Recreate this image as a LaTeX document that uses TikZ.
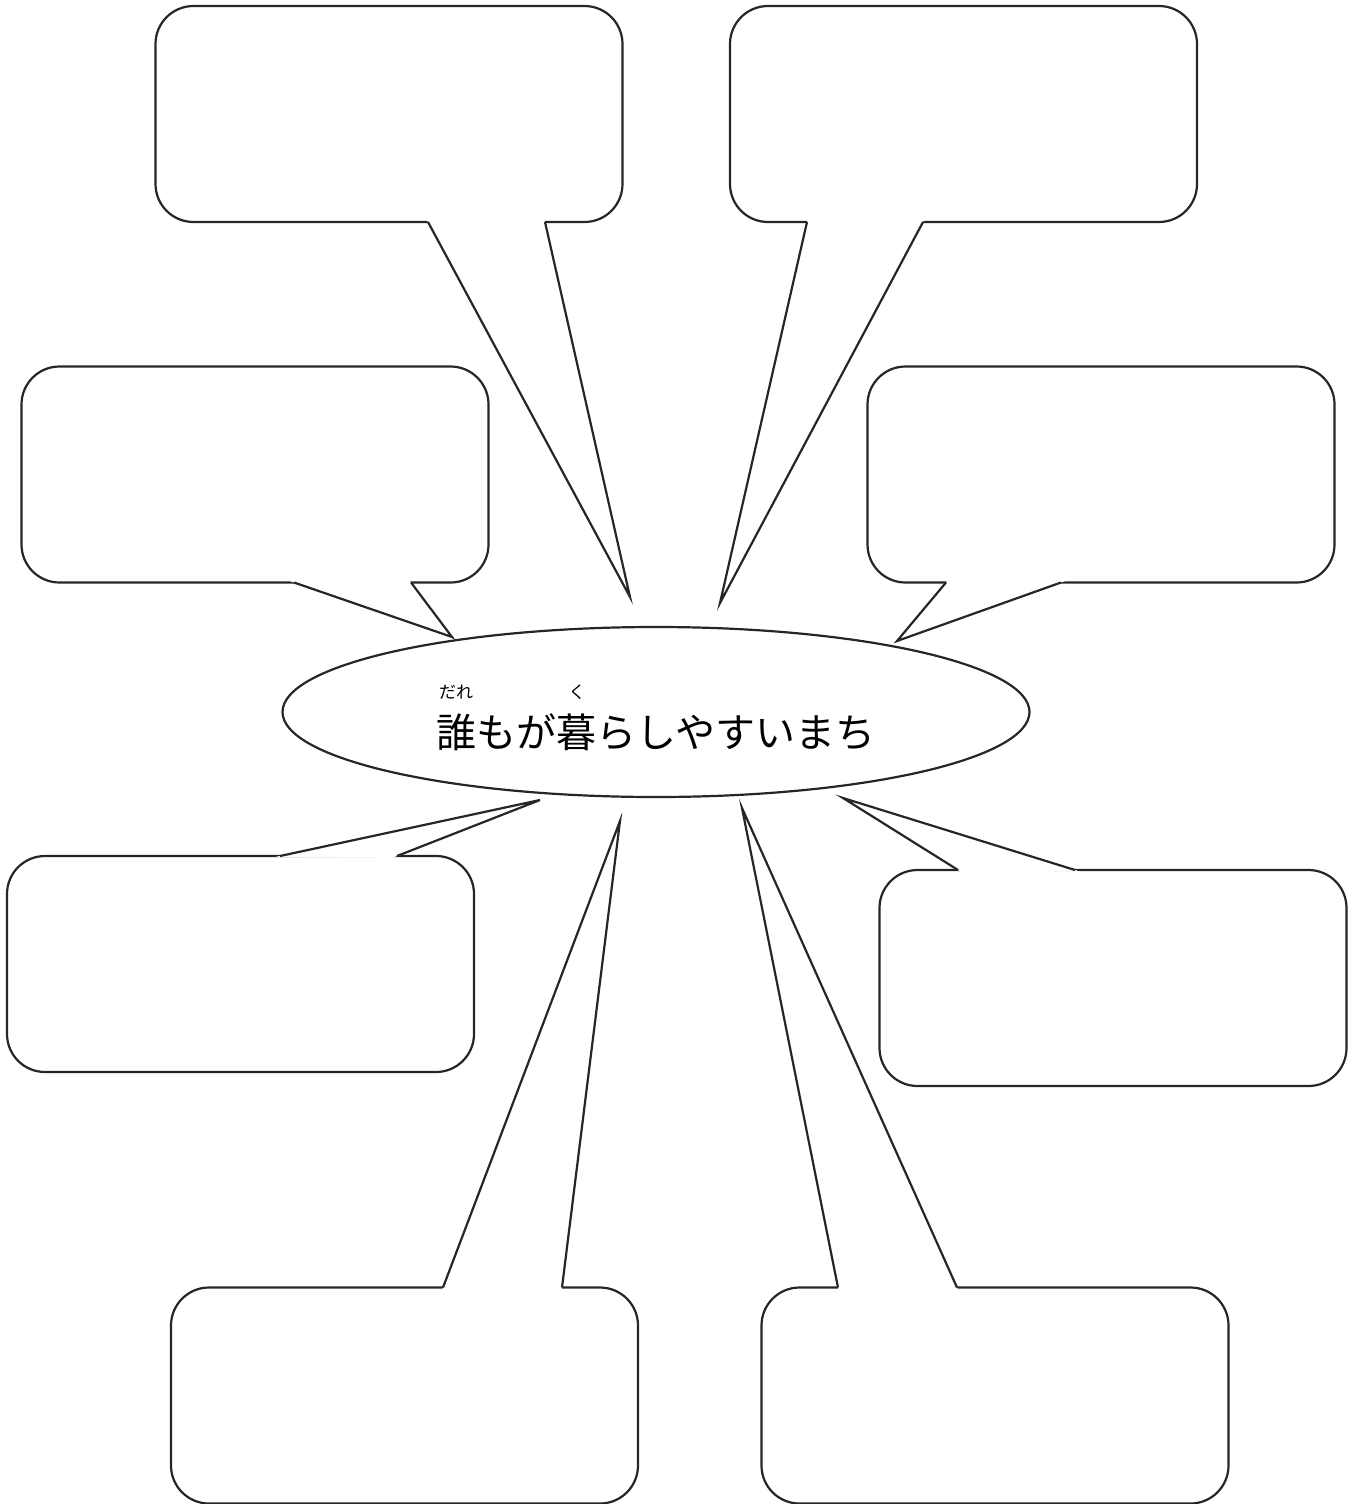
\documentclass[tikz,border=0pt]{standalone}
\usepackage{fontspec}
\newfontfamily\cjk{Noto Sans CJK JP}
\usetikzlibrary{shapes.geometric,calc}
\begin{document}
\begin{tikzpicture}[x=1pt,y=-1pt,
  line width=2.2pt, line join=miter,
  bubble/.style={draw=black!85, fill=white, rounded corners=38pt, inner sep=0pt, minimum width=467pt, minimum height=216pt},
  tailline/.style={draw=black!85, line width=2.2pt},
  hub/.style={ellipse, draw=black!85, fill=white, inner sep=0pt, minimum width=747pt, minimum height=170pt}]
\useasboundingbox (0,0) rectangle (1356,1504);

% boxes
\node[bubble] (b1) at (389,114) {};
\node[bubble] (b2) at (963.5,114) {};
\node[bubble] (b3) at (255,474.5) {};
\node[bubble] (b4) at (1101,474.5) {};
\node[bubble] (b5) at (240.5,964) {};
\node[bubble] (b6) at (1113,978) {};
\node[bubble] (b7) at (404.5,1395.5) {};
\node[bubble] (b8) at (995,1395.5) {};

% tail coordinates
\coordinate (a1) at (428,222); \coordinate (p1) at (630,597); \coordinate (c1) at (545,222);
\coordinate (a2) at (807,222); \coordinate (p2) at (720,603); \coordinate (c2) at (923,222);
\coordinate (a3) at (294,582.5); \coordinate (p3) at (452,637); \coordinate (c3) at (411,582.5);
\coordinate (a4) at (946,582.5); \coordinate (p4) at (897,641); \coordinate (c4) at (1061,582.5);
\coordinate (a5) at (280,856); \coordinate (p5) at (540,800); \coordinate (c5) at (397,856);
\coordinate (a6) at (958,870); \coordinate (p6) at (843,798); \coordinate (c6) at (1075,870);
\coordinate (a7) at (443,1287.5); \coordinate (p7) at (620,821); \coordinate (c7) at (562,1287.5);
\coordinate (a8) at (838,1287.5); \coordinate (p8) at (742,808); \coordinate (c8) at (957,1287.5);

% erase box edges under tail bases
\foreach \i in {1,...,8}{
  \fill[white] ($(a\i)!-5pt!(p\i)$) -- (p\i) -- ($(c\i)!-5pt!(p\i)$) -- cycle;
}
\foreach \i in {1,...,8}{
  \draw[tailline] (a\i) -- (p\i) -- (c\i);
}

% hub
\node[hub] (hub) at (656,712) {};
\node[anchor=base, inner sep=0pt, font=\cjk\fontsize{40}{40}\selectfont] (title) at (656,747) {誰もが暮らしやすいまち};
\node[anchor=base, inner sep=0pt, font=\cjk\fontsize{17}{17}\selectfont] (r1) at (456,698) {だれ};
\node[anchor=base, inner sep=0pt, font=\cjk\fontsize{17}{17}\selectfont] (r2) at (577,698) {く};
\end{tikzpicture}
\end{document}
